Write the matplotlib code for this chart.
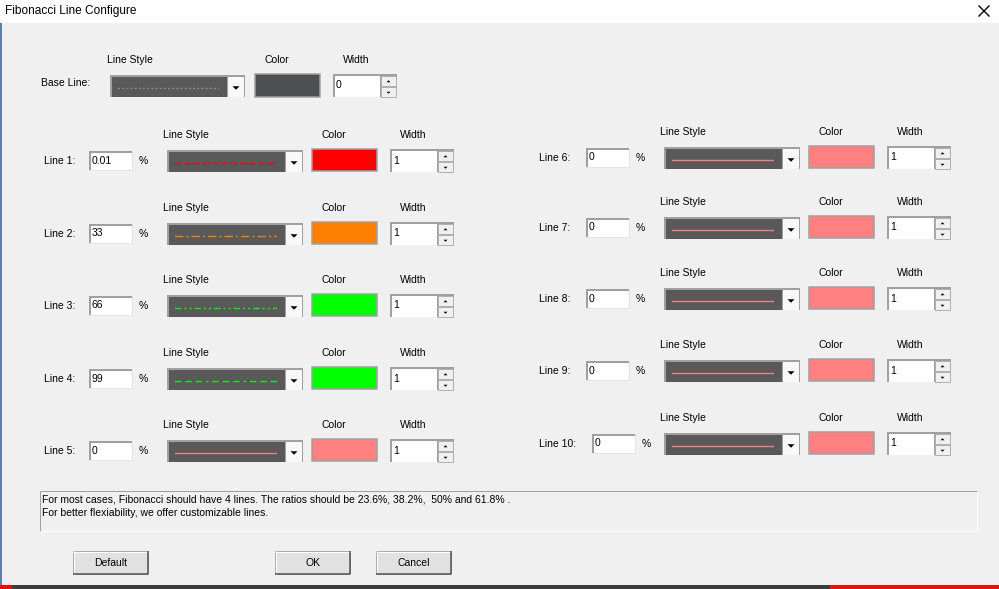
import matplotlib.pyplot as plt
from matplotlib.patches import Rectangle, Polygon

plt.rcParams['font.family'] = ['Liberation Sans', 'DejaVu Sans']

# --- dialog contents ---
title = 'Fibonacci Line Configure'
base_style = 'dotted'
base_color = '#4d5050'
base_width = 0

line_names = ['Line 1:', 'Line 2:', 'Line 3:', 'Line 4:', 'Line 5:',
              'Line 6:', 'Line 7:', 'Line 8:', 'Line 9:', 'Line 10:']
line_pcts = ['0.01', '33', '66', '99', '0', '0', '0', '0', '0', '0']
line_colors = ['#ff0000', '#ff8000', '#00ff00', '#00ff00', '#ff8080',
               '#ff8080', '#ff8080', '#ff8080', '#ff8080', '#ff8080']
line_styles = ['dashed', 'dashdot', 'dashdotdot', 'longdashdot', 'solid',
               'solid', 'solid', 'solid', 'solid', 'solid']
line_widths = [1, 1, 1, 1, 1, 1, 1, 1, 1, 1]

info_text = ['For most cases, Fibonacci should have 4 lines. The ratios should be 23.6%, 38.2%,  50% and 61.8% .',
             'For better flexiability, we offer customizable lines.']
buttons = ['Default', 'OK', 'Cancel']

# dash patterns, in units of the line width
dash_map = {
    'dotted': (0, (1.5, 1.5)),
    'dashed': (0, (4.5, 2.2)),
    'dashdot': (0, (6, 2.2, 1.5, 2.2)),
    'dashdotdot': (0, (4.5, 2.2, 1.5, 2.2, 1.5, 2.2)),
    'longdashdot': (0, (4.5, 3, 4.5, 3, 4.5, 3, 1.5, 3)),
    'solid': '-',
}

BG = '#f0f0f0'
FS = 7.5

fig = plt.figure(figsize=(9.99, 5.89), dpi=100)
ax = fig.add_axes([0, 0, 1, 1])
ax.set_xlim(0, 999)
ax.set_ylim(589, 0)
ax.axis('off')
PX = 0.72  # one pixel in points


def rect(x0, y0, x1, y1, fc, ec='none', lw=0):
    ax.add_patch(Rectangle((x0, y0), x1 - x0, y1 - y0, fc=fc, ec=ec, lw=lw))


def hline(x0, x1, y, c, lw=1):
    ax.plot([x0, x1], [y, y], color=c, lw=lw * PX, solid_capstyle='butt')


def vline(x, y0, y1, c, lw=1):
    ax.plot([x, x], [y0, y1], color=c, lw=lw * PX, solid_capstyle='butt')


def text(x, y, s, ha='left', size=FS, **kw):
    ax.text(x, y, s, ha=ha, va='center', fontsize=size, color='black', **kw)


def tri(cx, cy, w, up=False):
    h = w / 2
    if up:
        pts = [(cx - w / 2, cy + h / 2), (cx + w / 2, cy + h / 2), (cx, cy - h / 2)]
    else:
        pts = [(cx - w / 2, cy - h / 2), (cx + w / 2, cy - h / 2), (cx, cy + h / 2)]
    ax.add_patch(Polygon(pts, closed=True, fc='black', ec='none'))


def edit_box(x0, y0, x1, y1, value):
    rect(x0, y0, x1, y1, 'white')
    hline(x0, x1, y0 + 0.5, '#a0a0a0', 2)
    vline(x0 + 0.5, y0, y1, '#a0a0a0', 2)
    hline(x0, x1, y1, '#e3e3e3', 1)
    vline(x1, y0, y1, '#e3e3e3', 1)
    text(x0 + 3, (y0 + y1) / 2, value)


def combo(x0, y0, x1, y1, color, style):
    rect(x0, y0, x1, y1, '#a0a0a0')
    rect(x0 + 2, y0 + 2, x1 - 18, y1, '#595959')
    rect(x1 - 17, y0 + 2, x1 - 1, y1, '#f8f8f8')
    tri(x1 - 9, (y0 + y1) / 2 + 2, 7)
    cy = y0 + 13.5
    ls = dash_map[style]
    ax.plot([x0 + 8, x1 - 26], [cy, cy], color=color, lw=1.0,
            linestyle=ls, dash_capstyle='butt', solid_capstyle='butt',
            snap=False)


def color_box(x0, y0, x1, y1, color):
    rect(x0, y0, x1, y1, color, ec='#a0a0a0', lw=PX * 1.5)


def spin_box(x0, y0, x1, y1, value):
    rect(x0, y0, x1, y1, '#a0a0a0')
    rect(x0 + 2, y0 + 2, x1 - 17, y1, 'white')
    mid = (y0 + y1) / 2 + 1
    rect(x1 - 16, y0 + 2, x1 - 1, mid - 0.5, '#f0f0f0', ec='#b0b0b0', lw=PX)
    rect(x1 - 16, mid + 0.5, x1 - 1, y1, '#f0f0f0', ec='#b0b0b0', lw=PX)
    tri(x1 - 8.5, (y0 + 2 + mid) / 2, 4, up=True)
    tri(x1 - 8.5, (mid + y1) / 2 + 1, 4)
    text(x0 + 3, (y0 + y1) / 2, value)


def button(x0, y0, x1, y1, label):
    rect(x0, y0, x1, y1, '#e1e1e1', ec='#adadad', lw=PX)
    hline(x0, x1, y0 + 0.5, 'white')
    vline(x0 + 0.5, y0, y1, 'white')
    hline(x0, x1, y1, '#505050', 1.5)
    vline(x1, y0, y1, '#505050', 1.5)
    text((x0 + x1) / 2, (y0 + y1) / 2 + 1, label, ha='center')


# window frame
rect(0, 0, 999, 589, BG)
rect(0, 0, 999, 23, 'white')
ax.text(5, 11, title, ha='left', va='center', fontsize=8.6, color='black')
ax.plot([979, 989], [6, 16], color='black', lw=1)
ax.plot([979, 989], [16, 6], color='black', lw=1)
vline(1, 23, 585, '#5a7fae', 2)
rect(0, 585, 999, 589, '#3c3c3c')
rect(0, 585, 12, 589, '#e01010')
rect(830, 585, 999, 589, '#d81818')

# base line row
text(107, 60, 'Line Style')
text(277, 60, 'Color', ha='center')
text(356, 60, 'Width', ha='center')
text(41, 83, 'Base Line:')
combo(110, 75, 245, 97, '#8a8a8a', base_style)
color_box(255, 74, 320, 97, base_color)
spin_box(333, 74, 397, 97, str(base_width))

# line rows (layout)
left_rows = [161, 234, 306, 379, 451]
right_rows = [158, 228, 299, 371, 444]
row_y = left_rows + right_rows

for i, name in enumerate(line_names):
    cy = row_y[i]
    dx = 0 if i < 5 else 497
    ldx = 0 if i < 5 else 495
    extra = 6 if len(name) > 7 else 0
    text(163 + dx, cy - 26, 'Line Style')
    text(334 + dx, cy - 26, 'Color', ha='center')
    text(413 + dx, cy - 26, 'Width', ha='center')
    text(44 + ldx, cy, name)
    edit_box(89 + dx + extra, cy - 10, 132 + dx + extra, cy + 9, line_pcts[i])
    text(139 + dx + extra, cy, '%')
    combo(167 + dx, cy - 11, 303 + dx, cy + 11, line_colors[i], line_styles[i])
    color_box(312 + dx, cy - 12, 377 + dx, cy + 10, line_colors[i])
    spin_box(390 + dx, cy - 12, 454 + dx, cy + 11, str(line_widths[i]))

# info box
rect(40, 491, 977, 531, BG, ec='#a0a0a0', lw=PX)
hline(40, 977, 531, 'white')
vline(977, 491, 531, 'white')
text(42, 499, info_text[0])
text(42, 513, info_text[1])

# buttons
bx = [(73, 148), (275, 350), (376, 451)]
for (x0, x1), lab in zip(bx, buttons):
    button(x0, 551, x1, 574, lab)

fig.savefig('out.png', dpi=100, facecolor=BG)
